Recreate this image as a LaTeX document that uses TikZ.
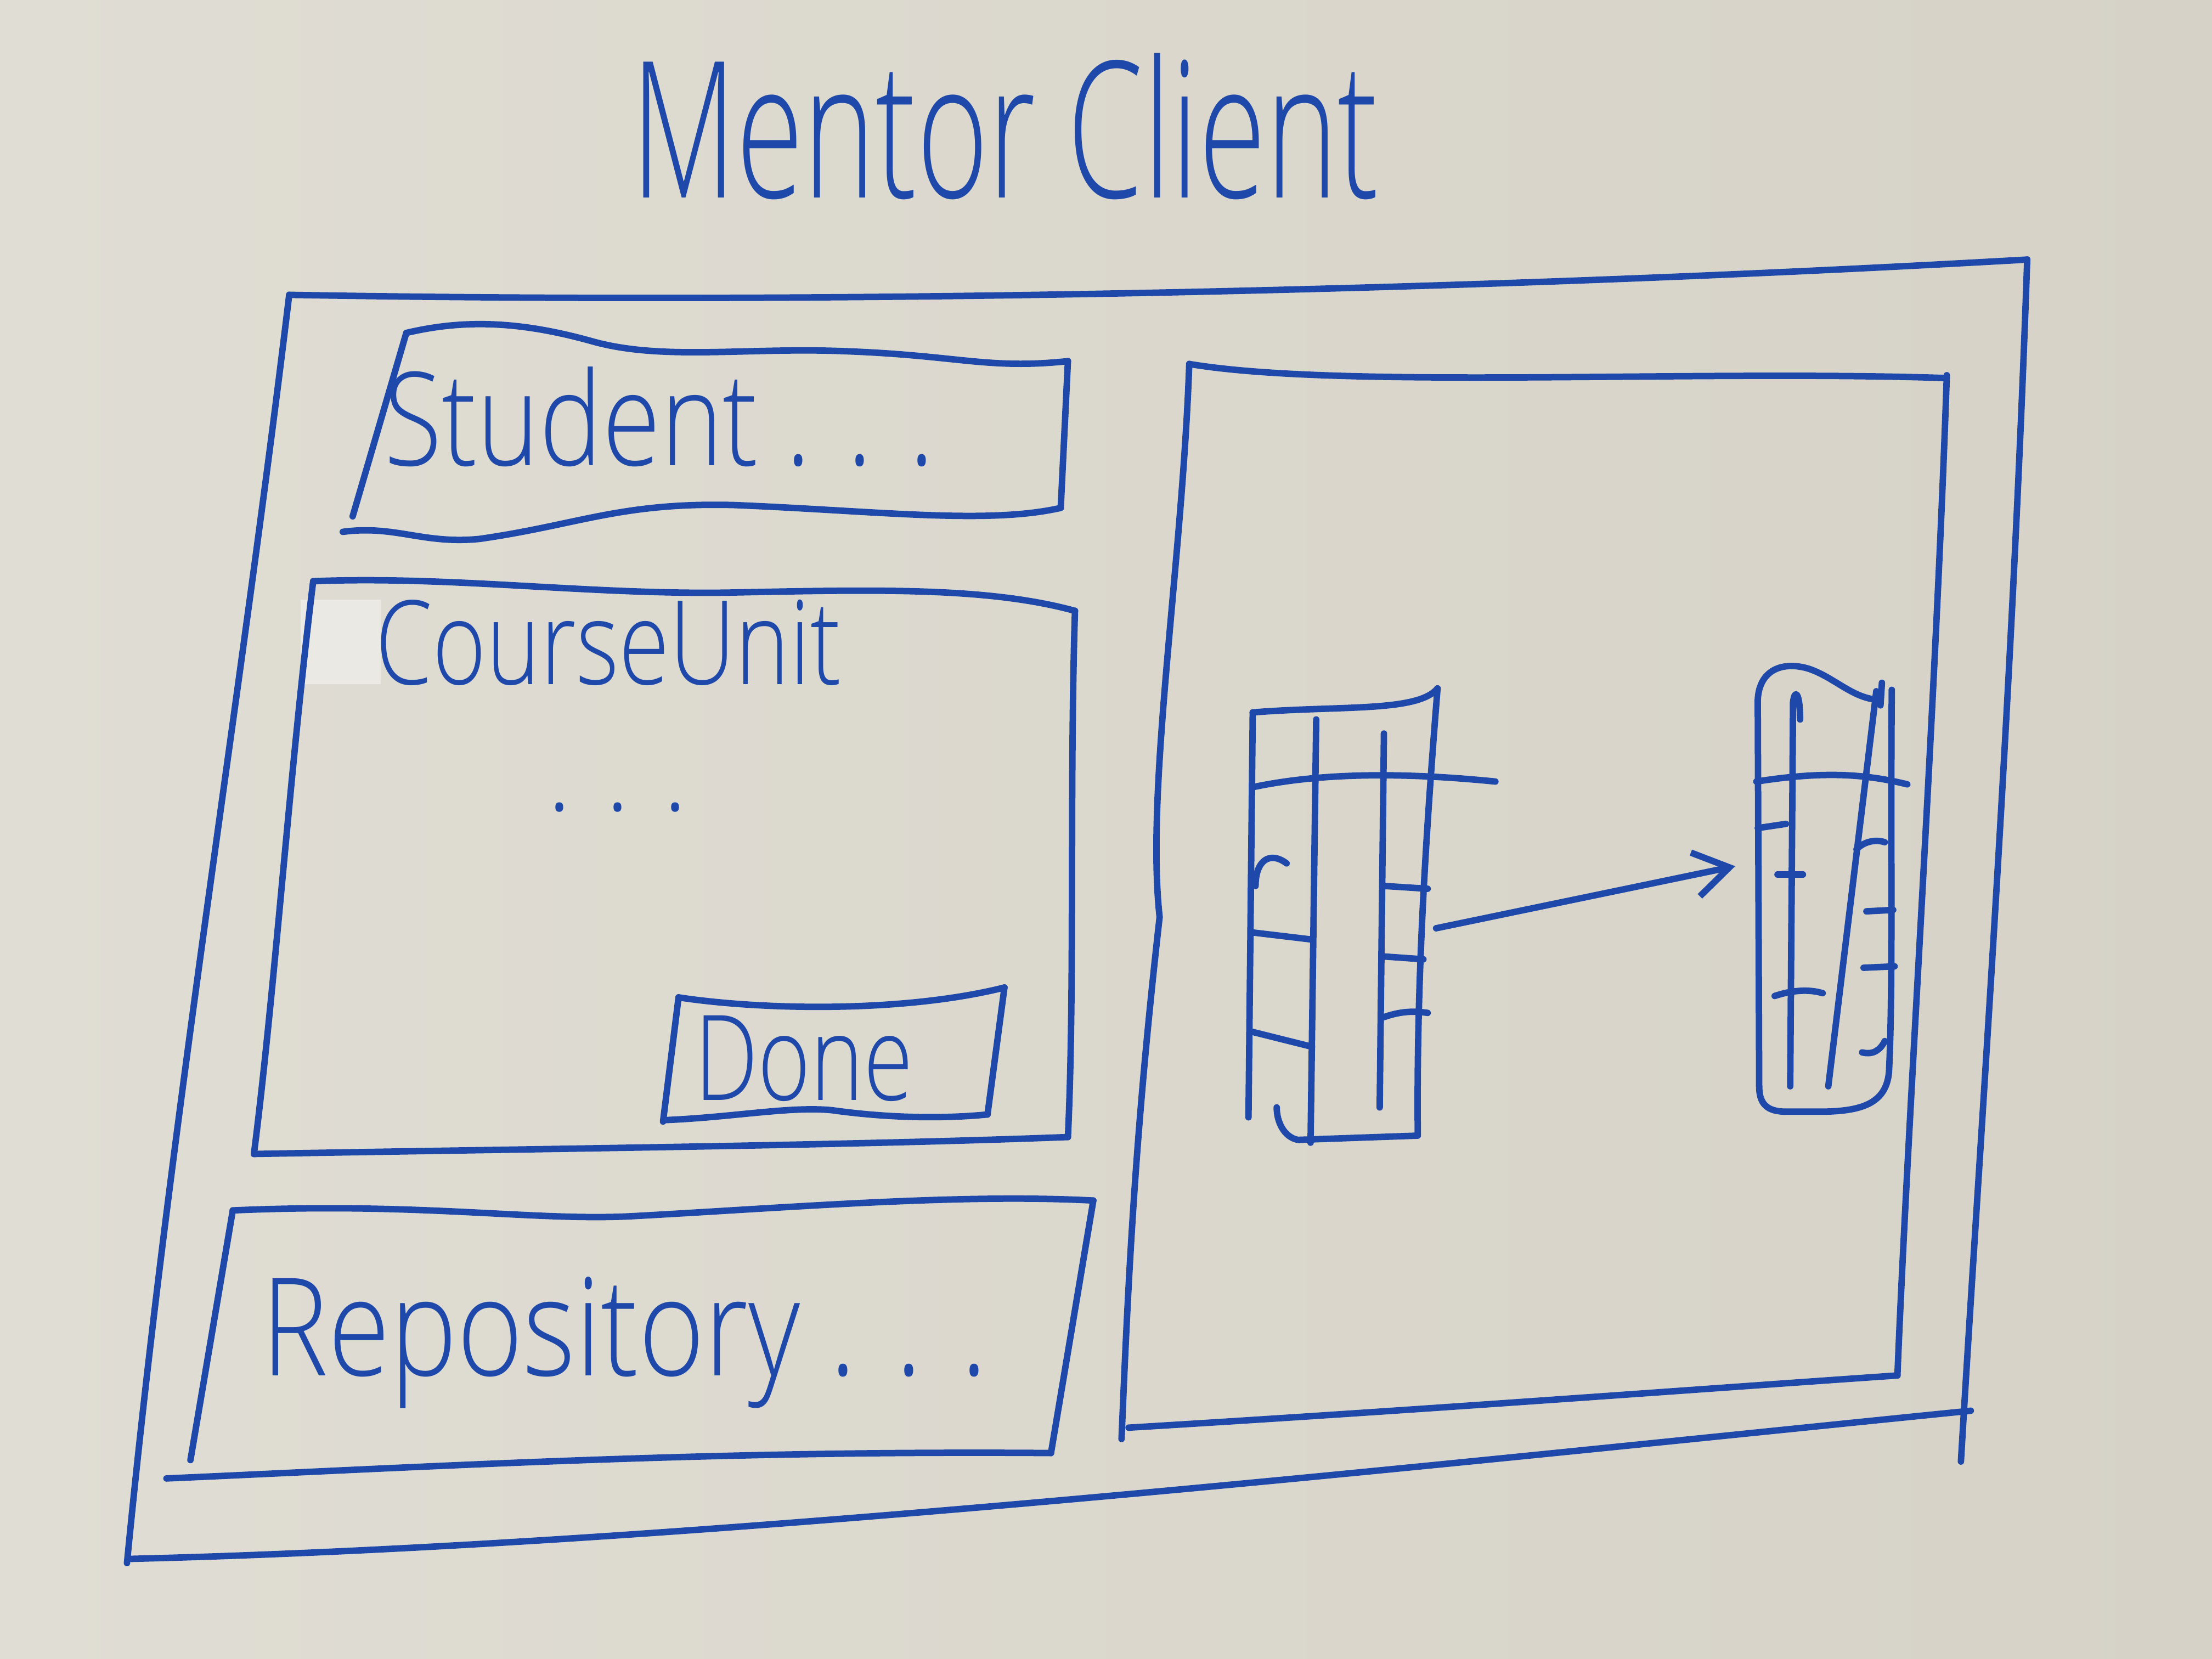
\documentclass[tikz,border=0pt]{standalone}
\usepackage{fontspec}
\setmainfont{Open Sans Light}
\usetikzlibrary{arrows.meta}
\definecolor{paper}{RGB}{224,221,212}
\definecolor{paperdark}{RGB}{214,210,199}
\definecolor{ink}{RGB}{30,72,170}
\tikzset{
  pen/.style={draw=ink, line width=2.6pt, line cap=round, line join=round},
  lbl/.style={text=ink, inner sep=0pt, anchor=base west},
}
% handwritten label squeezed to a given width and cap height
\newcommand{\hand}[3]{\resizebox{#1}{#2}{#3}}
\begin{document}
\begin{tikzpicture}[x=0.02cm,y=-0.02cm]
  % sheet of paper
  \shade[left color=paper, right color=paperdark] (0,0) rectangle (1568,1176);
  \useasboundingbox (0,0) rectangle (1568,1176);
  \fill[white!35!paper] (213,425) rectangle (270,485);

  % title
  \node[lbl] (title) at (447,140) {\hand{10.6cm}{2.05cm}{Mentor Client}};

  % outer window
  \draw[pen] (205,209) .. controls (600,216) and (1050,206) .. (1437,184);
  \draw[pen] (1437,184) .. controls (1426,500) and (1404,800) .. (1390,1036);
  \draw[pen] (205,209) .. controls (170,500) and (120,800) .. (90,1108);
  \draw[pen] (93,1105) .. controls (500,1095) and (1000,1040) .. (1397,1000);

  % student panel
  \draw[pen] (288,236) .. controls (330,226) and (370,228) .. (420,242)
             .. controls (470,256) and (530,246) .. (600,249)
             .. controls (680,252) and (700,262) .. (757,256);
  \draw[pen] (288,236) -- (250,366);
  \draw[pen] (757,256) -- (752,358);
  \draw[pen] (243,377) .. controls (280,372) and (300,386) .. (340,382)
             .. controls (410,372) and (440,356) .. (520,358)
             .. controls (620,362) and (700,372) .. (752,360);
  \node[lbl] (student) at (272,330) {\hand{7.8cm}{1.4cm}{Student . . .}};

  % course unit panel
  \draw[pen] (222,412) .. controls (320,408) and (420,422) .. (520,420)
             .. controls (620,418) and (700,416) .. (762,433);
  \draw[pen] (222,412) .. controls (205,550) and (195,700) .. (180,818);
  \draw[pen] (762,433) .. controls (758,560) and (762,700) .. (757,806);
  \draw[pen] (180,818) .. controls (400,814) and (600,812) .. (757,806);
  \node[lbl] (course) at (266,485) {\hand{6.6cm}{1.2cm}{CourseUnit}};
  \node[lbl, font=\fontsize{40}{40}\selectfont] (dots) at (388,575) {. . .};

  % done button
  \draw[pen] (481,707) .. controls (540,716) and (640,718) .. (712,700);
  \draw[pen] (481,707) -- (470,795);
  \draw[pen] (712,700) -- (700,790);
  \draw[pen] (471,794) .. controls (520,792) and (560,784) .. (590,787)
             .. controls (640,794) and (680,792) .. (700,790);
  \node[lbl] (done) at (492,780) {\hand{3.1cm}{1.2cm}{Done}};

  % repository panel
  \draw[pen] (165,858) .. controls (300,852) and (380,866) .. (450,862)
             .. controls (560,856) and (680,846) .. (775,851);
  \draw[pen] (165,858) -- (135,1035);
  \draw[pen] (775,851) -- (745,1030);
  \draw[pen] (118,1048) .. controls (300,1040) and (500,1028) .. (745,1030);
  \node[lbl] (repo) at (185,975) {\hand{10.3cm}{1.4cm}{Repository . . .}};

  % right panel
  \draw[pen] (843,258) .. controls (950,276) and (1200,262) .. (1380,268);
  \draw[pen] (1380,266) .. controls (1372,500) and (1352,800) .. (1345,975);
  \draw[pen] (843,258) .. controls (838,400) and (812,560) .. (822,650)
             .. controls (805,800) and (800,900) .. (795,1020);
  \draw[pen] (800,1012) .. controls (1000,1000) and (1200,985) .. (1345,975);

  % source column list
  \draw[pen] (888,505) .. controls (950,500) and (1005,505) .. (1019,488);
  \draw[pen] (888,505) -- (885,792);
  \draw[pen] (1019,488) .. controls (1010,600) and (1004,700) .. (1005,805)
             -- (920,808) .. controls (910,806) and (905,795) .. (905,785);
  \draw[pen] (933,510) -- (929,810);
  \draw[pen] (981,520) -- (978,785);
  \draw[pen] (888,558) .. controls (940,547) and (1000,548) .. (1060,554);
  \draw[pen] (890,628) .. controls (890,610) and (900,603) .. (912,612);
  \draw[pen] (888,661) -- (930,666);
  \draw[pen] (886,731) -- (930,742);
  \draw[pen] (981,628) -- (1012,630);
  \draw[pen] (981,678) -- (1009,680);
  \draw[pen] (981,721) .. controls (995,716) and (1005,717) .. (1012,718);
  \coordinate (src) at (1018,658);

  % target column list
  \draw[pen] (1247,770) -- (1246,500) .. controls (1245,476) and (1262,468) .. (1282,474)
             .. controls (1300,480) and (1312,494) .. (1330,496);
  \draw[pen] (1341,489) .. controls (1340,600) and (1342,700) .. (1339,760)
             .. controls (1337,782) and (1320,788) .. (1290,788)
             -- (1266,788) .. controls (1252,788) and (1247,782) .. (1247,770);
  \draw[pen] (1269,770) -- (1271,498) .. controls (1272,488) and (1276,490) .. (1276,510);
  \draw[pen] (1296,770) -- (1330,490);
  \draw[pen] (1334,484) -- (1333,500);
  \draw[pen] (1245,554) .. controls (1290,547) and (1320,548) .. (1352,556);
  \draw[pen] (1246,587) -- (1266,584);
  \draw[pen] (1260,620) -- (1278,620);
  \draw[pen] (1258,706) .. controls (1270,702) and (1282,701) .. (1292,704);
  \draw[pen] (1316,602) .. controls (1322,596) and (1330,595) .. (1336,597);
  \draw[pen] (1323,646) -- (1342,645);
  \draw[pen] (1321,686) -- (1343,685);
  \draw[pen] (1320,746) .. controls (1328,748) and (1333,744) .. (1336,738);
  \coordinate (dst) at (1230,614);

  % move arrow
  \draw[pen, -{Straight Barb[length=14pt, width=18pt]}] (src) -- (dst);
\end{tikzpicture}
\end{document}
